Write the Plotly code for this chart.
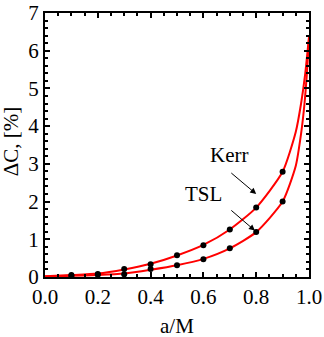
import plotly.graph_objects as go

spin = [0.1, 0.2, 0.3, 0.4, 0.5, 0.6, 0.7, 0.8, 0.9]
kerr_dots = [0.05, 0.08, 0.21, 0.34, 0.58, 0.84, 1.26, 1.84, 2.79]
tsl_dots = [0.03, 0.06, 0.07, 0.21, 0.31, 0.47, 0.76, 1.19, 2.0]

# curves
kerr_x = [0.0, 0.1, 0.2, 0.3, 0.4, 0.5, 0.6, 0.7, 0.8, 0.9, 0.95, 0.97, 0.985, 1.0]
kerr_y = [0.02, 0.05, 0.09, 0.2, 0.35, 0.57, 0.85, 1.26, 1.84, 2.79, 3.85, 4.6, 5.35, 6.37]
tsl_x = [0.0, 0.1, 0.2, 0.3, 0.4, 0.5, 0.6, 0.7, 0.8, 0.9, 0.95, 0.97, 0.983, 0.992, 1.0]
tsl_y = [0.01, 0.03, 0.05, 0.09, 0.19, 0.31, 0.48, 0.76, 1.19, 2.0, 2.95, 3.8, 4.6, 5.4, 6.3]

FONT = "Liberation Serif"

fig = go.Figure()
for xs, ys in [(kerr_x, kerr_y), (tsl_x, tsl_y)]:
    fig.add_trace(go.Scatter(x=xs, y=ys, mode='lines', line=dict(color='#ff0000', width=2, shape='spline', smoothing=0.6)))
for ys in [kerr_dots, tsl_dots]:
    fig.add_trace(go.Scatter(x=spin, y=ys, mode='markers', marker=dict(color='black', size=6)))

# labels and arrows
fig.add_annotation(x=0.697, y=3.24, text='Kerr', showarrow=False, font=dict(family=FONT, size=21, color='black'))
fig.add_annotation(x=0.60, y=2.21, text='TSL', showarrow=False, font=dict(family=FONT, size=21, color='black'))
fig.add_annotation(x=0.80, y=2.20, ax=0.70, ay=2.79, axref='x', ayref='y', text='', showarrow=True,
                   arrowhead=2, arrowsize=1.2, arrowwidth=1, arrowcolor='black')
fig.add_annotation(x=0.795, y=1.23, ax=0.70, ay=1.80, axref='x', ayref='y', text='', showarrow=True,
                   arrowhead=2, arrowsize=1.2, arrowwidth=1, arrowcolor='black')

# axis titles placed in paper coords
fig.add_annotation(x=0.5, y=-0.185, xref='paper', yref='paper', text='a/M', showarrow=False,
                   font=dict(family=FONT, size=21, color='black'), yanchor='middle')
fig.add_annotation(x=-0.128, y=0.515, xref='paper', yref='paper', text='ΔC, [%]', showarrow=False,
                   textangle=-90, font=dict(family=FONT, size=21, color='black'), xanchor='center')

axis_common = dict(showgrid=False, zeroline=False, showline=True, linecolor='black', linewidth=2,
                   mirror='allticks', ticks='inside', ticklen=5, tickwidth=1.5, tickcolor='black',
                   automargin=False, tickfont=dict(family=FONT, size=21, color='black'))
fig.update_xaxes(range=[0, 1], dtick=0.2, tickformat='.1f',
                 minor=dict(dtick=0.05, ticks='inside', ticklen=3, tickcolor='black'),
                 **axis_common)
fig.update_yaxes(range=[0, 7], dtick=1,
                 minor=dict(dtick=0.2, ticks='inside', ticklen=3, tickcolor='black'),
                 **axis_common)

fig.update_layout(width=324, height=337, margin=dict(l=45, r=15, t=13, b=60),
                  plot_bgcolor='white', paper_bgcolor='white', showlegend=False)

# drop the default page margin so the figure sits at the window's corner
fig.write_html("out.html", config={'displayModeBar': False},
               post_script="document.body.style.margin='0px';")
